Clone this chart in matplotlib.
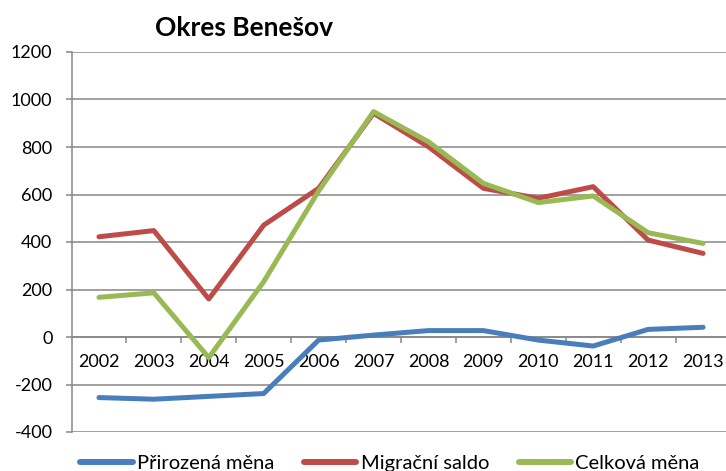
import matplotlib
matplotlib.use("Agg")
import matplotlib.pyplot as plt
from matplotlib.lines import Line2D

plt.rcParams['font.family'] = ['Lato', 'DejaVu Sans']

years = ["2002", "2003", "2004", "2005", "2006", "2007", "2008", "2009", "2010", "2011", "2012", "2013"]
prirozena = [-255, -262, -250, -238, -13, 8, 27, 27, -13, -38, 32, 41]
migracni = [422, 448, 160, 471, 626, 942, 801, 626, 584, 633, 408, 352]
celkova = [167, 186, -87, 233, 615, 949, 822, 647, 566, 594, 439, 394]
series_names = ["Přirozená měna", "Migrační saldo", "Celková měna"]
colors = ["#4A7EBB", "#BE4B48", "#98B954"]
yticks = [-400, -200, 0, 200, 400, 600, 800, 1000, 1200]

W, H = 726, 471
fig = plt.figure(figsize=(W / 100, H / 100), dpi=100)
ax = fig.add_axes([71.5 / W, 1 - 432 / H, 659 / W, 380 / H])

grid_c = "#868686"
x = list(range(len(years)))
for vals, c in zip([prirozena, migracni, celkova], colors):
    ax.plot(x, vals, color=c, lw=3.6, solid_joinstyle='round', solid_capstyle='round', zorder=3)

ax.set_xlim(-0.5, len(years) - 0.5)
ax.set_ylim(-400, 1200)
ax.set_yticks(yticks)
ax.set_yticklabels([str(v) for v in yticks])
for v in yticks:
    ax.axhline(v, color=grid_c, lw=1.1, zorder=1)

for s in ["top", "right"]:
    ax.spines[s].set_visible(False)
ax.spines["left"].set_color(grid_c)
ax.spines["left"].set_linewidth(1.1)
ax.spines["bottom"].set_position(("data", 0))
ax.spines["bottom"].set_color(grid_c)
ax.spines["bottom"].set_linewidth(1.1)

ax.set_xticks(x)
ax.set_xticklabels(years)
ax.set_xticks([i + 0.5 for i in range(len(years) - 1)], minor=True)
ax.tick_params(axis="x", which="major", length=0, pad=12, labelsize=13)
ax.tick_params(axis="x", which="minor", length=4.3, width=1.1, color=grid_c, direction="out")
ax.tick_params(axis="y", length=4.3, width=1.1, color=grid_c, pad=9.4, labelsize=13)

fig.text(155 / W, 1 - 28.5 / H, "Okres Benešov", fontsize=19, fontweight="bold", ha="left", va="center")

handles = [Line2D([], [], color=c, lw=4.3, solid_capstyle='round') for c in colors]
fig.legend(handles, series_names, loc="center", ncol=3, frameon=False,
           bbox_to_anchor=(390 / W, 1 - 463 / H), fontsize=14.5,
           handlelength=2.6, handletextpad=0.2, columnspacing=1.5,
           borderaxespad=0, borderpad=0)

fig.savefig("out.png", dpi=100)
